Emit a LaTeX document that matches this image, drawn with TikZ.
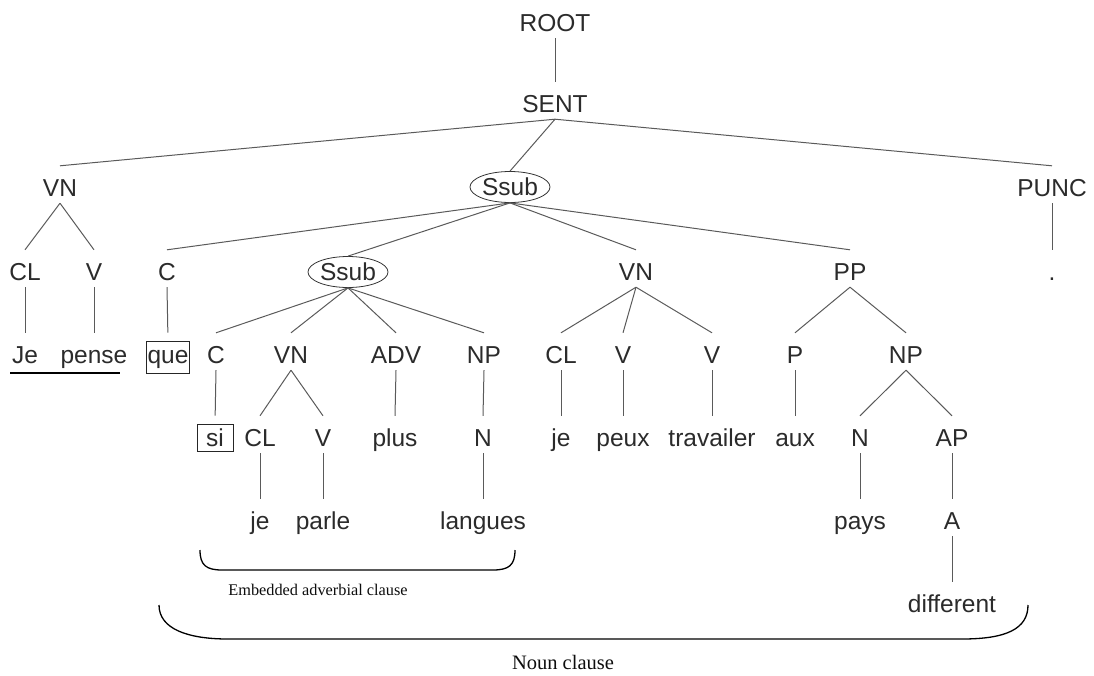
\documentclass[tikz,border=0pt]{standalone}
\usepackage{fontspec}
\setmainfont{Liberation Serif}
\newfontfamily\treesans{Liberation Sans}
\usepackage{tikz}
\usetikzlibrary{shapes.geometric,positioning,calc}

\definecolor{txtgray}{HTML}{2B2B2B}
\definecolor{linegray}{HTML}{5A5A5A}
\newcommand{\treefont}{\treesans\fontsize{24.5}{28}\selectfont}

\begin{document}
\begin{tikzpicture}[
    x=1pt, y=-1pt,
    % --- STYLES ---
    lbl/.style={
        font=\treefont, text=txtgray,
        text height=25pt, text depth=2pt,
        inner xsep=1pt, inner ysep=5pt,
        anchor=base
    },
    ssub/.style={
        ellipse, draw=black!80, line width=0.8pt,
        font=\treefont, text=txtgray,
        minimum width=80pt, minimum height=31pt,
        inner sep=0pt
    },
    boxed/.style={
        rectangle, draw=black!85, line width=0.9pt,
        font=\treefont, text=txtgray,
        text height=17pt, minimum width=36pt,
        inner xsep=1pt, inner ysep=5pt,
        anchor=base
    },
    branch/.style={draw=linegray, line width=1pt},
    tobox/.style={branch, shorten >=8pt},
    brace/.style={draw=black, line width=1.3pt},
    note/.style={font=\fontsize{16.3}{18}\selectfont, text=black!95}
]
\useasboundingbox (0,0) rectangle (1094,675);

% ===== 1. ROW BASELINES =====
\def\rowA{31}
\def\rowB{112}
\def\rowC{196}
\def\rowD{280}
\def\rowE{363}
\def\rowF{446}
\def\rowG{529}
\def\rowH{612}

% ===== 2. TREE NODES =====
\node[lbl] (root) at (555,\rowA) {ROOT};
\node[lbl] (sent) at (555,\rowB) {SENT};

\node[lbl] (vn1) at (60,\rowC) {VN};
\node[ssub] (ssubA) at (510,187) {Ssub};
\node[lbl] (punc) at (1052,\rowC) {PUNC};

\node[lbl] (cl1) at (25,\rowD) {CL};
\node[lbl] (v1) at (94,\rowD) {V};
\node[lbl] (c1) at (167,\rowD) {C};
\node[ssub] (ssubB) at (348,272) {Ssub};
\node[lbl] (vn2) at (636,\rowD) {VN};
\node[lbl] (pp) at (850,\rowD) {PP};
\node[lbl] (dot) at (1052,\rowD) {.};

\node[lbl] (je1) at (25,\rowE) {Je};
\node[lbl] (pense) at (94,\rowE) {pense};
\node[boxed] (que) at (168,\rowE) {que};
\node[lbl] (c2) at (216,\rowE) {C};
\node[lbl] (vn3) at (291,\rowE) {VN};
\node[lbl] (adv) at (396,\rowE) {ADV};
\node[lbl] (np1) at (484,\rowE) {NP};
\node[lbl] (cl2) at (561,\rowE) {CL};
\node[lbl] (v2) at (623,\rowE) {V};
\node[lbl] (v3) at (712,\rowE) {V};
\node[lbl] (p1) at (795,\rowE) {P};
\node[lbl] (np2) at (906,\rowE) {NP};

\node[boxed] (si) at (215,\rowF) {si};
\node[lbl] (cl3) at (260,\rowF) {CL};
\node[lbl] (v4) at (323,\rowF) {V};
\node[lbl] (plus) at (395,\rowF) {plus};
\node[lbl] (n1) at (483,\rowF) {N};
\node[lbl] (je2) at (561,\rowF) {je};
\node[lbl] (peux) at (623,\rowF) {peux};
\node[lbl] (trav) at (712,\rowF) {travailer};
\node[lbl] (aux) at (795,\rowF) {aux};
\node[lbl] (n2) at (860,\rowF) {N};
\node[lbl] (ap) at (952,\rowF) {AP};

\node[lbl] (je3) at (260,\rowG) {je};
\node[lbl] (parle) at (323,\rowG) {parle};
\node[lbl] (langues) at (483,\rowG) {langues};
\node[lbl] (pays) at (860,\rowG) {pays};
\node[lbl] (a1) at (952,\rowG) {A};

\node[lbl] (diff) at (952,\rowH) {different};

% ===== 3. BRANCHES =====
\draw[branch] (root.south) -- (sent.north);

\draw[branch] (sent.south) -- (vn1.north);
\draw[branch] (sent.south) -- (ssubA.north);
\draw[branch] (sent.south) -- (punc.north);

% -- VN : Je pense --
\draw[branch] (vn1.south) -- (cl1.north);
\draw[branch] (vn1.south) -- (v1.north);
\draw[branch] (cl1.south) -- (je1.north);
\draw[branch] (v1.south) -- (pense.north);
\draw[branch] (punc.south) -- (dot.north);

% -- Ssub (noun clause) --
\draw[branch] (ssubA.south) -- (c1.north);
\draw[branch] (ssubA.south) -- (ssubB.north);
\draw[branch] (ssubA.south) -- (vn2.north);
\draw[branch] (ssubA.south) -- (pp.north);
\draw[tobox] (c1.south) -- (que.north);

% -- Ssub (adverbial clause) --
\draw[branch] (ssubB.south) -- (c2.north);
\draw[branch] (ssubB.south) -- (vn3.north);
\draw[branch] (ssubB.south) -- (adv.north);
\draw[branch] (ssubB.south) -- (np1.north);
\draw[tobox] (c2.south) -- (si.north);
\draw[branch] (vn3.south) -- (cl3.north);
\draw[branch] (vn3.south) -- (v4.north);
\draw[branch] (cl3.south) -- (je3.north);
\draw[branch] (v4.south) -- (parle.north);
\draw[branch] (adv.south) -- (plus.north);
\draw[branch] (np1.south) -- (n1.north);
\draw[branch] (n1.south) -- (langues.north);

% -- VN : je peux travailer --
\draw[branch] (vn2.south) -- (cl2.north);
\draw[branch] (vn2.south) -- (v2.north);
\draw[branch] (vn2.south) -- (v3.north);
\draw[branch] (cl2.south) -- (je2.north);
\draw[branch] (v2.south) -- (peux.north);
\draw[branch] (v3.south) -- (trav.north);

% -- PP : aux pays different --
\draw[branch] (pp.south) -- (p1.north);
\draw[branch] (pp.south) -- (np2.north);
\draw[branch] (p1.south) -- (aux.north);
\draw[branch] (np2.south) -- (n2.north);
\draw[branch] (np2.south) -- (ap.north);
\draw[branch] (n2.south) -- (pays.north);
\draw[branch] (ap.south) -- (a1.north);
\draw[branch] (a1.south) -- (diff.north);

% ===== 4. MARKS & BRACES =====
\draw[black, line width=1.8pt] (10,373) -- (120,373);

\coordinate (embL) at (200,550);
\coordinate (embR) at (515,550);
\coordinate (nounL) at (159,605);
\coordinate (nounR) at (1028,605);

\draw[brace] (embL) .. controls +(0,15) and +(-16,0) .. (222,570)
    -- (493,570) .. controls +(16,0) and +(0,15) .. (embR);
\draw[brace] (nounL) .. controls +(0,24) and +(-40,0) .. (228,639)
    -- (962,639) .. controls +(44,0) and +(0,24) .. (nounR);

\node[note] (embLbl) at (318,590) {Embedded adverbial clause};
\node[note, font=\fontsize{20.5}{23}\selectfont] (nounLbl) at (563,662) {Noun clause};

\end{tikzpicture}
\end{document}
